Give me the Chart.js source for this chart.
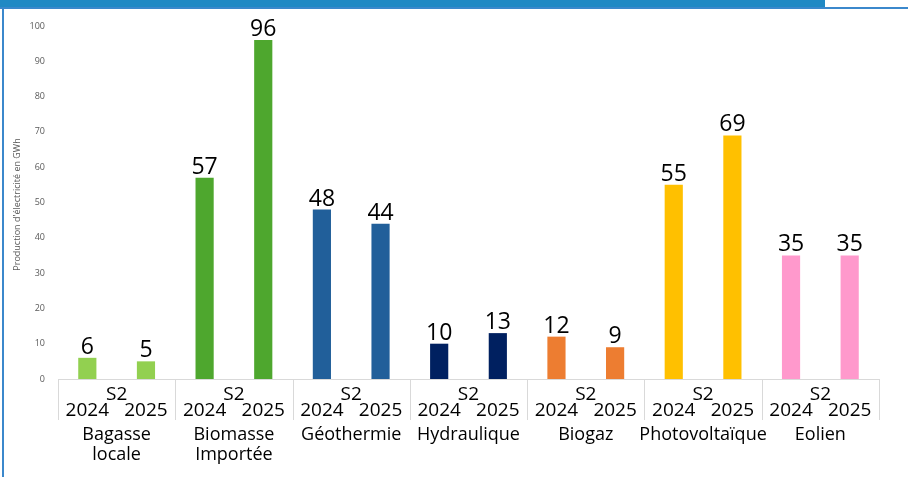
<!DOCTYPE html>
<html>
<head>
<meta charset="utf-8">
<script src="https://cdn.jsdelivr.net/npm/chart.js@4.4.1/dist/chart.umd.min.js"></script>
<style>
  html, body { margin: 0; padding: 0; background: #fff; }
  #wrap { position: relative; width: 908px; height: 477px; overflow: hidden; }
  #band { position: absolute; left: 0; top: 0; width: 825px; height: 7px; background: #2089c4; }
  #topline { position: absolute; left: 0; top: 7px; width: 908px; height: 2px; background: #3b88cc; }
  #leftline { position: absolute; left: 2px; top: 8px; width: 2px; height: 469px; background: #3b88cc; }
  canvas { position: absolute; left: 0; top: 0; }
</style>
</head>
<body>
<div id="wrap">
  <canvas id="chart" width="908" height="477"></canvas>
  <div id="band"></div>
  <div id="topline"></div>
  <div id="leftline"></div>
</div>
<script>
// categories and series
const categories = [
  ["Bagasse", "locale"],
  ["Biomasse", "Importée"],
  ["Géothermie"],
  ["Hydraulique"],
  ["Biogaz"],
  ["Photovoltaïque"],
  ["Eolien"],
];
const period = "S2";
const years = ["2024", "2025"];
const values2024 = [6, 57, 48, 10, 12, 55, 35];
const values2025 = [5, 96, 44, 13, 9, 69, 35];
const colors = ["#92d050", "#4ea72e", "#215f9a", "#002060", "#ed7d31", "#ffc000", "#ff99cc"];
const yTicks = [0, 10, 20, 30, 40, 50, 60, 70, 80, 90, 100];
const yTitle = "Production d'électricité en GWh";

// one bar per (category, year)
const labels = [];
const data = [];
const barColors = [];
categories.forEach((c, i) => {
  labels.push(years[0], years[1]);
  data.push(values2024[i], values2025[i]);
  barColors.push(colors[i], colors[i]);
});

const FONT = "'Open Sans', 'Noto Sans', sans-serif";

const extras = {
  id: "extras",
  afterDraw(chart) {
    const ctx = chart.ctx;
    const x = chart.scales.x;
    const y = chart.scales.y;
    const slot = (x.right - x.left) / labels.length;
    const base = y.getPixelForValue(0);
    ctx.save();

    // separators between groups
    ctx.strokeStyle = "#d9d9d9";
    ctx.lineWidth = 1;
    for (let i = 0; i <= categories.length; i++) {
      const px = Math.round(x.left + i * slot * 2) + 0.5;
      ctx.beginPath();
      ctx.moveTo(px, base);
      ctx.lineTo(px, base + 41);
      ctx.stroke();
    }

    // S2 and category names
    ctx.fillStyle = "#000";
    ctx.textAlign = "center";
    ctx.textBaseline = "alphabetic";
    ctx.font = "19px " + FONT;
    categories.forEach((c, i) => {
      const cx = (x.getPixelForValue(2 * i) + x.getPixelForValue(2 * i + 1)) / 2;
      ctx.fillText(period, cx, base + 21);
    });
    ctx.font = "18px " + FONT;
    categories.forEach((c, i) => {
      const cx = (x.getPixelForValue(2 * i) + x.getPixelForValue(2 * i + 1)) / 2;
      c.forEach((line, k) => {
        ctx.fillText(line, cx, base + 61 + k * 20);
      });
    });

    // value labels
    ctx.font = "23px " + FONT;
    const meta = chart.getDatasetMeta(0);
    meta.data.forEach((bar, i) => {
      ctx.fillText(String(data[i]), bar.x, bar.y - 4);
    });

    // y title
    ctx.font = "9px " + FONT;
    ctx.fillStyle = "#595959";
    ctx.translate(17, (y.top + y.bottom) / 2 + 2);
    ctx.rotate(-Math.PI / 2);
    ctx.textBaseline = "middle";
    ctx.fillText(yTitle, 0, 0);
    ctx.restore();
  },
};

new Chart(document.getElementById("chart"), {
  type: "bar",
  data: {
    labels: labels,
    datasets: [{
      data: data,
      backgroundColor: barColors,
      barPercentage: 0.31,
      categoryPercentage: 1,
    }],
  },
  options: {
    responsive: false,
    animation: false,
    layout: { padding: { left: 0, right: 29, top: 26, bottom: 0 } },
    plugins: { legend: { display: false }, tooltip: { enabled: false } },
    scales: {
      x: {
        grid: { display: false, drawTicks: false },
        border: { display: true, color: "#d9d9d9" },
        ticks: {
          color: "#000",
          font: { family: FONT, size: 19 },
          padding: 20,
          maxRotation: 0,
          autoSkip: false,
        },
        afterFit(s) { s.height = 98; },
      },
      y: {
        min: 0,
        max: 100,
        afterBuildTicks(s) { s.ticks = yTicks.map(v => ({ value: v })); },
        grid: { display: false, drawTicks: false },
        border: { display: false },
        ticks: {
          color: "#595959",
          font: { family: FONT, size: 9 },
          padding: 13,
        },
        afterFit(s) { s.width = 58; },
      },
    },
  },
  plugins: [extras],
});
</script>
</body>
</html>
